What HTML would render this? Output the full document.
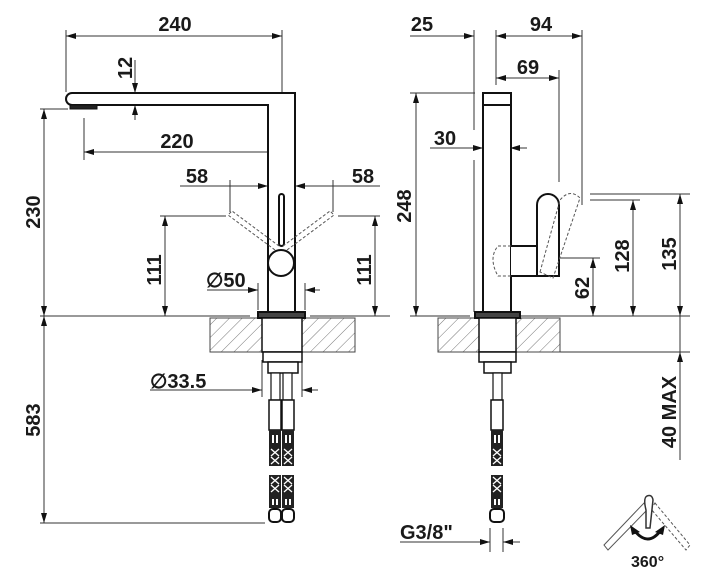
<!DOCTYPE html>
<html><head><meta charset="utf-8"><style>
html,body{margin:0;padding:0;background:#fff}
svg{display:block}
text{font-family:"Liberation Sans",Arial,sans-serif;font-weight:bold;font-size:20px;fill:#1a1a1a}
</style></head><body>
<svg width="715" height="584" viewBox="0 0 715 584" xmlns="http://www.w3.org/2000/svg">
<defs>
<marker id="a" viewBox="0 0 10 6" refX="10" refY="3" markerWidth="14" markerHeight="6" markerUnits="userSpaceOnUse" orient="auto-start-reverse"><path d="M0,0L10,3L0,6z" fill="#111"/></marker>
<pattern id="h" width="9" height="9" patternUnits="userSpaceOnUse" patternTransform="rotate(45)"><line x1="0" y1="0" x2="0" y2="9" stroke="#777" stroke-width="1"/></pattern>
<g id="hose">
<rect x="0" y="0" width="12" height="30" fill="#fff" stroke="#111" stroke-width="1.5"/>
<rect x="0" y="30" width="12" height="17" fill="#222"/>
<rect x="3" y="35" width="2" height="8" fill="#fff"/><rect x="7" y="35" width="2" height="8" fill="#fff"/>
<rect x="0" y="47" width="12" height="19" fill="#222"/>
<path d="M2,49l8,7M10,49l-8,7M2,57l8,7M10,57l-8,7" stroke="#fff" stroke-width="1.3"/>
<rect x="0" y="75" width="12" height="20" fill="#222"/>
<path d="M2,77l8,7M10,77l-8,7M2,85l8,7M10,85l-8,7" stroke="#fff" stroke-width="1.3"/>
<rect x="0" y="95" width="12" height="13" fill="#222"/>
<rect x="3" y="99" width="2" height="6" fill="#fff"/><rect x="7" y="99" width="2" height="6" fill="#fff"/>
</g>
</defs>
<g stroke="#333" stroke-width="1" fill="none">
<line x1="40" y1="316" x2="250" y2="316"/><line x1="310" y1="316" x2="390" y2="316"/>
<line x1="410" y1="316" x2="470" y2="316"/><line x1="520" y1="316" x2="690" y2="316"/>
<line x1="560" y1="352" x2="690" y2="352"/>
<line x1="66" y1="30" x2="66" y2="92"/><line x1="282" y1="30" x2="282" y2="190"/>
<line x1="66" y1="36" x2="282" y2="36" marker-start="url(#a)" marker-end="url(#a)"/>
<line x1="135" y1="60" x2="135" y2="93" marker-end="url(#a)"/>
<line x1="135" y1="120" x2="135" y2="105" marker-end="url(#a)"/>
<line x1="40" y1="109" x2="68" y2="109"/>
<line x1="44" y1="109" x2="44" y2="316" marker-start="url(#a)" marker-end="url(#a)"/>
<line x1="84" y1="118" x2="84" y2="160"/>
<line x1="84" y1="152" x2="282" y2="152" marker-start="url(#a)" marker-end="url(#a)"/>
<line x1="180" y1="186" x2="268" y2="186" marker-end="url(#a)"/>
<line x1="380" y1="186" x2="295" y2="186" marker-end="url(#a)"/>
<line x1="230" y1="180" x2="230" y2="212"/><line x1="333" y1="180" x2="333" y2="212"/>
<line x1="160" y1="216" x2="226" y2="216"/><line x1="338" y1="216" x2="380" y2="216"/>
<line x1="165" y1="216" x2="165" y2="316" marker-start="url(#a)" marker-end="url(#a)"/>
<line x1="375" y1="216" x2="375" y2="316" marker-start="url(#a)" marker-end="url(#a)"/>
<line x1="207" y1="290" x2="258" y2="290" marker-end="url(#a)"/>
<line x1="320" y1="290" x2="305" y2="290" marker-end="url(#a)"/>
<line x1="258" y1="283" x2="258" y2="310"/><line x1="305" y1="283" x2="305" y2="310"/>
<line x1="150" y1="390" x2="262" y2="390" marker-end="url(#a)"/>
<line x1="318" y1="390" x2="302" y2="390" marker-end="url(#a)"/>
<line x1="262" y1="360" x2="262" y2="397"/><line x1="302" y1="360" x2="302" y2="397"/>
<line x1="44" y1="316" x2="44" y2="523" marker-start="url(#a)" marker-end="url(#a)"/>
<line x1="40" y1="523" x2="265" y2="523"/>
<line x1="410" y1="36" x2="474" y2="36" marker-end="url(#a)"/>
<line x1="474" y1="30" x2="474" y2="130"/><line x1="474" y1="160" x2="474" y2="312"/>
<line x1="496" y1="30" x2="496" y2="85"/><line x1="582" y1="30" x2="582" y2="205"/>
<line x1="496" y1="36" x2="582" y2="36" marker-start="url(#a)" marker-end="url(#a)"/>
<line x1="496" y1="78" x2="559" y2="78" marker-start="url(#a)" marker-end="url(#a)"/>
<line x1="559" y1="70" x2="559" y2="182"/>
<line x1="430" y1="148" x2="483" y2="148" marker-end="url(#a)"/>
<line x1="527" y1="148" x2="510" y2="148" marker-end="url(#a)"/>
<line x1="410" y1="93" x2="475" y2="93"/>
<line x1="416" y1="93" x2="416" y2="316" marker-start="url(#a)" marker-end="url(#a)"/>
<line x1="540" y1="258" x2="600" y2="258"/>
<line x1="593" y1="258" x2="593" y2="316" marker-start="url(#a)" marker-end="url(#a)"/>
<line x1="590" y1="200" x2="640" y2="200"/>
<line x1="633" y1="200" x2="633" y2="316" marker-start="url(#a)" marker-end="url(#a)"/>
<line x1="590" y1="194" x2="690" y2="194"/>
<line x1="680" y1="194" x2="680" y2="316" marker-start="url(#a)" marker-end="url(#a)"/>
<line x1="680" y1="352" x2="680" y2="460" marker-start="url(#a)"/>
<line x1="680" y1="316" x2="680" y2="352"/>
<line x1="400" y1="542" x2="490" y2="542" marker-end="url(#a)"/>
<line x1="520" y1="542" x2="503" y2="542" marker-end="url(#a)"/>
<line x1="490" y1="528" x2="490" y2="552"/><line x1="503" y1="528" x2="503" y2="552"/>
</g>
<rect x="210" y="318" width="52" height="34" fill="url(#h)" stroke="#444" stroke-width="1"/>
<rect x="302" y="318" width="53" height="34" fill="url(#h)" stroke="#444" stroke-width="1"/>
<rect x="438" y="318" width="42" height="34" fill="url(#h)" stroke="#444" stroke-width="1"/>
<rect x="516" y="318" width="44" height="34" fill="url(#h)" stroke="#444" stroke-width="1"/>
<g stroke="#111" stroke-width="2" fill="#fff">
<path d="M72,93H295V312H268V105H72A6,6 0 0 1 72,93Z"/>
<rect x="70" y="105" width="27" height="4" fill="#222" stroke-width="1"/>
<rect x="279" y="194" width="5" height="52" rx="2.5"/>
<circle cx="281" cy="263" r="13"/>
<rect x="258" y="312" width="47" height="6" fill="#444"/>
<rect x="262" y="318" width="40" height="34" stroke-width="1.5"/>
<rect x="263" y="352" width="39" height="10" stroke-width="1.5"/>
<rect x="268" y="362" width="30" height="11" stroke-width="1.5"/>
<rect x="271" y="373" width="9" height="27" stroke-width="1.2"/>
<rect x="283" y="373" width="9" height="27" stroke-width="1.2"/>
<rect x="483" y="93" width="28" height="219"/>
<line x1="483" y1="105" x2="511" y2="105"/>
<path d="M511,246H537V276H511" />
<path d="M537,276V205A11,11 0 0 1 559,205V276Z"/>
<rect x="475" y="312" width="45" height="6" fill="#444"/>
<rect x="479" y="318" width="37" height="34" stroke-width="1.5"/>
<rect x="479" y="352" width="37" height="10" stroke-width="1.5"/>
<rect x="484" y="362" width="27" height="11" stroke-width="1.5"/>
<rect x="493" y="373" width="9" height="27" stroke-width="1.2"/>
</g>
<g stroke="#555" stroke-width="1" stroke-dasharray="3,2" fill="none">
<path d="M275,250L228,215L232,211L279,246"/>
<path d="M287,250L334,215L330,211L283,246"/>
<path d="M540,272L560,200Q570,188 580,198L553,278Z"/>
<path d="M511,246H498Q488,258 498,276H511"/>
</g>
<use href="#hose" x="269" y="400"/><use href="#hose" x="282" y="400"/>
<use href="#hose" x="491" y="400"/>
<g fill="#fff" stroke="#111" stroke-width="2">
<rect x="269" y="509" width="12" height="13" rx="4"/><rect x="282" y="509" width="12" height="13" rx="4"/>
<rect x="490" y="509" width="14" height="13" rx="4"/>
</g>
<g fill="none" stroke="#555" stroke-width="1">
<path d="M604,545L644,503L648,509L608,550Z"/>
<path d="M655,503L690,545L686,550L651,509Z" stroke-dasharray="3,2"/>
<path d="M646,510Q643,498 647,496Q652,494 653,500L650,528L646,528Z" stroke="#333" stroke-width="1.5" fill="#fff"/>
</g>
<path d="M634,530Q648,548 661,530" fill="none" stroke="#111" stroke-width="3"/>
<path d="M630,525L640,532L632,535Z M665,525L655,532L663,535Z" fill="#111"/>
<text x="631" y="567" style="font-size:16px">360°</text>
<text x="175" y="31" text-anchor="middle">240</text>
<text transform="translate(132,68) rotate(-90)" text-anchor="middle">12</text>
<text transform="translate(40,212) rotate(-90)" text-anchor="middle">230</text>
<text x="177" y="148" text-anchor="middle">220</text>
<text x="197" y="183" text-anchor="middle">58</text>
<text x="363" y="183" text-anchor="middle">58</text>
<text transform="translate(161,270) rotate(-90)" text-anchor="middle">111</text>
<text transform="translate(371,270) rotate(-90)" text-anchor="middle">111</text>
<text x="206" y="287">∅50</text>
<text x="150" y="388">∅33.5</text>
<text transform="translate(40,420) rotate(-90)" text-anchor="middle">583</text>
<text x="422" y="31" text-anchor="middle">25</text>
<text x="541" y="31" text-anchor="middle">94</text>
<text x="528" y="74" text-anchor="middle">69</text>
<text x="445" y="145" text-anchor="middle">30</text>
<text transform="translate(411,206) rotate(-90)" text-anchor="middle">248</text>
<text transform="translate(589,288) rotate(-90)" text-anchor="middle">62</text>
<text transform="translate(629,256) rotate(-90)" text-anchor="middle">128</text>
<text transform="translate(676,254) rotate(-90)" text-anchor="middle">135</text>
<text transform="translate(676,412) rotate(-90)" text-anchor="middle">40 MAX</text>
<text x="400" y="539">G3/8"</text>
</svg>
</body></html>
